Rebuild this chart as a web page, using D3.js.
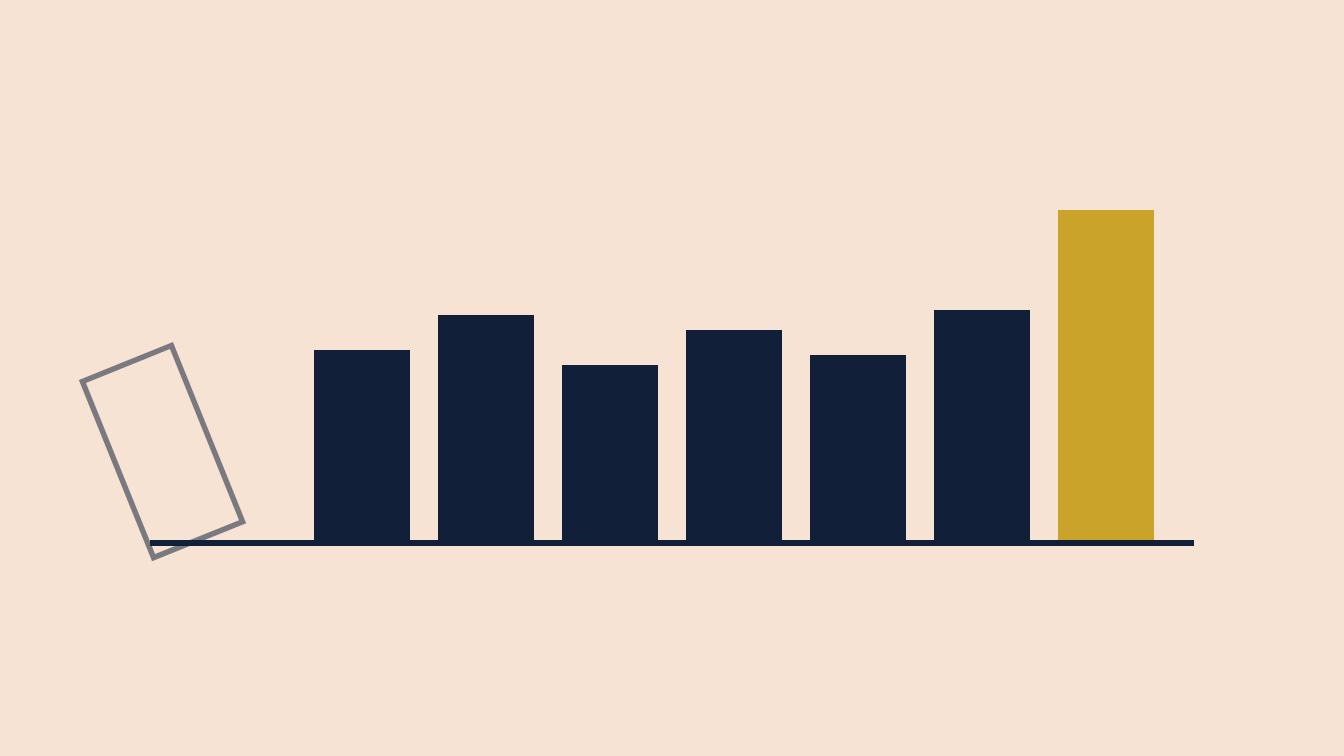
<!DOCTYPE html>
<html>
<head>
    <meta charset="utf-8">
    <title>Bars</title>
    <script src="https://d3js.org/d3.v7.min.js"></script>
    <style>
        html, body {
            margin: 0;
            padding: 0;
            background: #F7E3D3;
        }
        svg { display: block; }
    </style>
</head>
<body>
    <div class="chart"></div>
    <script>
        // data
        const categories = ['A', 'B', 'C', 'D', 'E', 'F', 'G', 'H']
        const values = [19, 19, 22.5, 17.5, 21, 18.5, 23, 33]
        const kinds = ['fallen', 'base', 'base', 'base', 'base', 'base', 'base', 'highlight']

        const w = 1344
        const h = 756
        const colors = { base: '#112038', highlight: '#C9A32A', fallen: '#7A7980' }

        const svg = d3.select('.chart')
            .append('svg')
            .attr('width', w)
            .attr('height', h)

        svg.append('rect')
            .attr('width', w)
            .attr('height', h)
            .attr('fill', '#F7E3D3')

        const x = d3.scaleBand()
            .domain(categories)
            .range([190, 1154])
            .paddingInner(28 / 124)
            .paddingOuter(0)

        const y = d3.scaleLinear()
            .domain([0, 33])
            .range([540, 210])

        const rows = categories.map((c, i) => ({ cat: c, value: values[i], kind: kinds[i] }))

        // standing bars
        svg.selectAll('rect.bar')
            .data(rows.filter(d => d.kind !== 'fallen'))
            .enter()
            .append('rect')
            .attr('class', 'bar')
            .attr('x', d => x(d.cat))
            .attr('y', d => y(d.value))
            .attr('width', x.bandwidth())
            .attr('height', d => y(0) - y(d.value))
            .attr('fill', d => colors[d.kind])

        // the knocked-over bar, tipped left out of its slot
        const fallen = rows.filter(d => d.kind === 'fallen')
        svg.selectAll('g.fallen')
            .data(fallen)
            .enter()
            .append('g')
            .attr('class', 'fallen')
            .attr('transform', d => {
                const bh = y(0) - y(d.value)
                const cx = x(d.cat) + x.bandwidth() / 2 - 75.5
                const cy = y(0) - bh / 2 + 6.6
                return `translate(${cx},${cy}) rotate(-22)`
            })
            .append('rect')
            .attr('x', -x.bandwidth() / 2)
            .attr('y', d => -(y(0) - y(d.value)) / 2)
            .attr('width', x.bandwidth())
            .attr('height', d => y(0) - y(d.value))
            .attr('fill', 'none')
            .attr('stroke', colors.fallen)
            .attr('stroke-width', 5.5)

        // baseline
        svg.append('line')
            .attr('x1', x.range()[0] - 40)
            .attr('x2', x.range()[1] + 40)
            .attr('y1', y(0) + 3)
            .attr('y2', y(0) + 3)
            .attr('stroke', colors.base)
            .attr('stroke-width', 6)
    </script>
</body>
</html>
